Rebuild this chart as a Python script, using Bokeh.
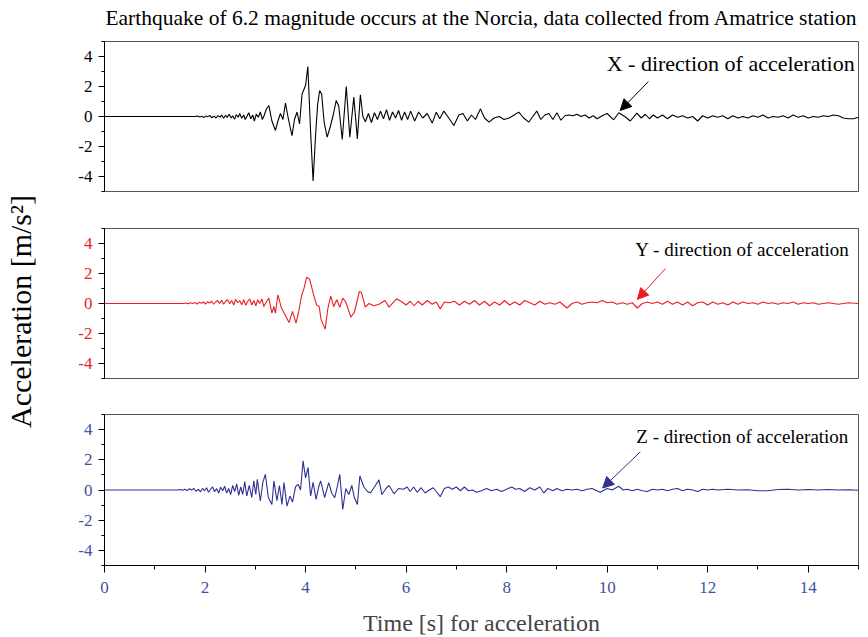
from bokeh.plotting import figure
from bokeh.layouts import column, row
from bokeh.models import FixedTicker, Arrow, NormalHead, Label, Range1d
from bokeh.embed import file_html
from bokeh.resources import INLINE

TITLE = "Earthquake of 6.2 magnitude occurs at the Norcia, data collected from Amatrice station"
X_LABEL = "Time [s] for acceleration"
Y_LABEL = "Acceleration [m/s\u00b2]"
Y_TICKS = [-4, -2, 0, 2, 4]
Y_MINOR = [-5, -3, -1, 1, 3, 5]
X_TICKS = [0, 2, 4, 6, 8, 10, 12, 14]
X_MINOR = [1, 3, 5, 7, 9, 11, 13, 15]

# (time s, acceleration m/s^2)
X_DIR = [(0, 0), (1.80, 0), (1.85, 0.03), (1.90, -0.04), (1.93, 0.02), (1.98, -0.06), (2.02, 0.04),
         (2.05, -0.02), (2.10, 0.06), (2.13, -0.08), (2.18, 0.02), (2.22, -0.1), (2.25, 0.05),
         (2.30, -0.04), (2.33, 0.1), (2.37, -0.12), (2.41, 0.08), (2.44, -0.06), (2.48, 0.15),
         (2.52, -0.1), (2.55, 0.05), (2.59, -0.18), (2.62, 0.12), (2.66, -0.05), (2.69, 0.2),
         (2.73, -0.12), (2.77, 0.1), (2.80, -0.2), (2.84, 0.05), (2.87, 0.25), (2.91, -0.15),
         (2.95, 0.1), (2.98, -0.3), (3.02, 0.15), (3.06, -0.05), (3.10, 0.3), (3.14, -0.2),
         (3.18, 0.1), (3.22, 0.5), (3.27, 0.73), (3.33, -0.3), (3.40, -0.93), (3.45, -0.3), (3.50, 0.2),
         (3.55, -0.2), (3.60, 0.9), (3.66, -0.2), (3.73, -1.27), (3.78, -0.2), (3.83, 0.3),
         (3.88, -0.5), (3.93, 1.5), (4.00, 2.07), (4.045, 3.33), (4.10, -1.0), (4.15, -4.3),
         (4.20, -1.2), (4.24, 0.8), (4.28, 1.73), (4.32, 1.5), (4.37, -0.4), (4.43, -1.38),
         (4.49, -0.7), (4.55, 0.1), (4.61, 1.07), (4.66, 0.7), (4.73, -1.53), (4.81, 2.0),
         (4.88, -1.38), (4.96, 1.29), (5.03, -1.49), (5.09, 1.44), (5.14, 0.0), (5.19, -0.35),
         (5.25, 0.2), (5.31, -0.4), (5.37, 0.25), (5.43, -0.2), (5.49, 0.35), (5.55, -0.15),
         (5.61, 0.45), (5.67, -0.25), (5.73, 0.3), (5.79, -0.1), (5.85, 0.4), (5.91, -0.25),
         (5.97, 0.3), (6.03, -0.2), (6.09, 0.36), (6.17, -0.3), (6.25, 0.3), (6.33, -0.1),
         (6.42, 0.2), (6.52, -0.44), (6.60, 0.29), (6.67, -0.15), (6.75, 0.36), (6.85, -0.1),
         (6.95, -0.6), (7.05, 0.1), (7.13, 0.2), (7.22, -0.3), (7.30, 0.1), (7.38, -0.2),
         (7.48, 0.51), (7.56, -0.1), (7.65, -0.38), (7.75, -0.1), (7.85, 0.0), (7.95, -0.2),
         (8.05, -0.1), (8.15, 0.1), (8.24, 0.29), (8.34, -0.1), (8.44, -0.38), (8.52, 0.0),
         (8.60, 0.36), (8.68, -0.2), (8.76, 0.1), (8.84, 0.2), (8.92, -0.2), (9.00, 0.25),
         (9.08, -0.25), (9.16, 0.05), (9.24, 0.1), (9.32, 0.05), (9.40, 0.15), (9.48, 0.0),
         (9.56, 0.1), (9.64, -0.1), (9.72, 0.05), (9.80, -0.15), (9.90, 0.05), (10.00, 0.2),
         (10.13, -0.22), (10.23, 0.25), (10.35, 0.0), (10.46, -0.3), (10.59, 0.22), (10.68, -0.1),
         (10.76, 0.15), (10.84, -0.15), (10.92, 0.1), (11.00, -0.1), (11.10, 0.1), (11.20, -0.15),
         (11.30, 0.1), (11.40, -0.05), (11.50, 0.05), (11.60, -0.1), (11.70, 0.0), (11.80, -0.3),
         (11.90, 0.05), (12.00, -0.1), (12.10, 0.05), (12.20, -0.05), (12.30, 0.05), (12.40, -0.15),
         (12.50, 0.05), (12.60, -0.1), (12.70, 0.0), (12.80, -0.1), (12.90, 0.05), (13.00, -0.05),
         (13.10, 0.1), (13.20, -0.1), (13.30, 0.0), (13.40, -0.05), (13.50, 0.05), (13.60, -0.1),
         (13.70, 0.1), (13.80, -0.05), (13.90, 0.05), (14.00, -0.1), (14.10, 0.0), (14.20, -0.05),
         (14.30, 0.05), (14.40, 0.0), (14.50, 0.1), (14.60, 0.05), (14.70, -0.1), (14.80, -0.15),
         (14.90, -0.15), (15.00, -0.05)]

Y_DIR = [(0, 0), (1.57, 0), (1.62, 0.03), (1.66, -0.02), (1.71, 0.05), (1.75, 0.0), (1.80, 0.06),
         (1.84, -0.03), (1.89, 0.08), (1.93, 0.02), (1.97, 0.1), (2.01, -0.04), (2.05, 0.12),
         (2.09, 0.03), (2.13, 0.15), (2.17, -0.05), (2.21, 0.1), (2.25, 0.2), (2.29, 0.0),
         (2.33, 0.22), (2.37, -0.05), (2.41, 0.15), (2.45, 0.25), (2.49, -0.02), (2.53, 0.2),
         (2.57, -0.1), (2.61, 0.28), (2.65, 0.05), (2.69, 0.2), (2.73, -0.08), (2.77, 0.25),
         (2.81, -0.12), (2.85, 0.15), (2.89, 0.3), (2.93, -0.1), (2.97, 0.2), (3.01, -0.15),
         (3.05, 0.25), (3.09, 0.0), (3.13, 0.3), (3.17, -0.2), (3.22, 0.1), (3.27, 0.36),
         (3.33, -0.64), (3.37, -0.2), (3.40, -0.64),
         (3.45, 0.58), (3.52, -0.3), (3.60, -0.8), (3.67, -1.27), (3.74, -0.53), (3.81, -1.31),
         (3.86, -0.6), (3.92, 0.5), (3.97, 1.02), (4.02, 1.76), (4.08, 1.62), (4.16, 0.58),
         (4.22, -0.1), (4.27, -0.2), (4.31, -1.09), (4.39, -1.71), (4.44, -0.4), (4.50, 0.51),
         (4.56, -0.2), (4.62, 0.25), (4.68, -0.25), (4.74, 0.36), (4.80, 0.1), (4.90, -0.91),
         (4.97, -0.6), (5.07, 0.8), (5.11, 0.75), (5.19, -0.24), (5.26, 0.0), (5.36, -0.15),
         (5.46, -0.05), (5.58, 0.2), (5.66, -0.24), (5.81, 0.31), (5.92, 0.1), (6.00, -0.1),
         (6.08, 0.15), (6.16, -0.15), (6.24, 0.15), (6.32, -0.1), (6.42, 0.2), (6.52, -0.05),
         (6.60, 0.1), (6.68, -0.36), (6.76, 0.1), (6.86, 0.05), (6.96, 0.15), (7.06, -0.1),
         (7.16, 0.15), (7.26, -0.05), (7.36, 0.2), (7.46, -0.1), (7.56, 0.15), (7.66, -0.15),
         (7.76, 0.1), (7.86, -0.1), (7.96, 0.2), (8.06, -0.1), (8.16, 0.1), (8.26, -0.1),
         (8.36, 0.2), (8.46, 0.05), (8.56, -0.1), (8.66, 0.15), (8.76, -0.05), (8.86, 0.05),
         (8.96, -0.05), (9.06, 0.1), (9.20, -0.3), (9.30, 0.0), (9.40, 0.1), (9.50, -0.05),
         (9.60, 0.05), (9.70, 0.1), (9.80, 0.05), (9.90, 0.2), (10.00, 0.05), (10.10, 0.1),
         (10.20, -0.05), (10.30, 0.05), (10.40, -0.05), (10.50, 0.05), (10.60, -0.3), (10.70, 0.0),
         (10.80, 0.1), (10.90, 0.0), (11.00, 0.1), (11.10, -0.05), (11.20, 0.15), (11.30, -0.05),
         (11.40, 0.1), (11.50, -0.1), (11.60, 0.1), (11.70, -0.15), (11.80, 0.05), (11.90, 0.1),
         (12.00, -0.1), (12.10, 0.1), (12.20, -0.05), (12.30, 0.05), (12.40, -0.1), (12.50, 0.1),
         (12.60, -0.05), (12.70, 0.1), (12.80, 0.0), (12.90, 0.05), (13.00, -0.05), (13.10, 0.1),
         (13.20, 0.0), (13.30, 0.05), (13.40, -0.05), (13.50, 0.05), (13.60, 0.0), (13.70, 0.1),
         (13.80, -0.05), (13.90, 0.05), (14.00, 0.0), (14.10, 0.05), (14.20, -0.05), (14.40, 0.05),
         (14.60, -0.05), (14.80, 0.05), (15.00, 0.0)]

Z_DIR = [(0, 0), (1.45, 0), (1.50, 0.03), (1.55, -0.02), (1.60, 0.05), (1.64, -0.04), (1.69, 0.08),
         (1.73, 0.0), (1.78, 0.1), (1.82, -0.08), (1.87, 0.05), (1.91, -0.12), (1.95, 0.1),
         (1.99, -0.05), (2.03, 0.15), (2.07, -0.15), (2.11, 0.05), (2.15, 0.2), (2.19, -0.12),
         (2.23, 0.1), (2.27, -0.2), (2.31, 0.18), (2.35, -0.05), (2.39, 0.25), (2.43, -0.2),
         (2.47, 0.1), (2.51, -0.3), (2.55, 0.3), (2.59, -0.1), (2.63, 0.4), (2.67, -0.35),
         (2.71, 0.2), (2.75, -0.3), (2.79, 0.55), (2.83, -0.4), (2.88, 0.3), (2.93, -0.5),
         (2.97, 0.6), (3.01, -0.3), (3.04, 0.71), (3.10, -0.73), (3.15, 0.5), (3.20, 1.04), (3.26, -0.5),
         (3.33, -0.96), (3.37, 0.6), (3.43, -0.7), (3.48, 0.3), (3.53, -0.96), (3.57, 0.5),
         (3.63, -1.07), (3.69, -0.4), (3.74, -0.8), (3.80, 0.2), (3.85, 0.38), (3.90, 0.0),
         (3.95, 1.93), (4.00, 0.8), (4.05, 1.49), (4.10, -0.4), (4.15, 0.5), (4.21, -0.62),
         (4.26, 0.2), (4.30, 0.6), (4.38, -0.51), (4.46, 0.49), (4.52, -0.2), (4.58, -0.51),
         (4.63, 0.2), (4.68, 1.04), (4.74, -1.29), (4.80, 0.1), (4.86, -0.3), (4.92, 0.3),
         (4.97, -0.5), (5.03, -0.96), (5.08, 0.93), (5.16, 0.2), (5.23, -0.1), (5.29, -0.2),
         (5.37, 0.2), (5.46, 0.67), (5.52, -0.3), (5.60, 0.1), (5.66, 0.3), (5.76, -0.25),
         (5.85, 0.1), (5.95, 0.05), (6.02, 0.2), (6.08, -0.1), (6.15, 0.2), (6.22, -0.15),
         (6.30, 0.15), (6.38, -0.2), (6.46, 0.0), (6.54, 0.15), (6.60, -0.1), (6.68, -0.44),
         (6.76, 0.1), (6.84, 0.2), (6.92, 0.05), (7.00, 0.2), (7.08, -0.05), (7.16, 0.2),
         (7.24, -0.05), (7.32, 0.0), (7.40, -0.15), (7.50, -0.05), (7.60, 0.1), (7.70, -0.05),
         (7.80, 0.05), (7.90, -0.1), (8.00, 0.05), (8.10, 0.2), (8.18, 0.05), (8.26, 0.1),
         (8.36, -0.1), (8.46, 0.15), (8.56, 0.0), (8.66, 0.2), (8.74, -0.2), (8.82, 0.1),
         (8.92, -0.05), (9.00, 0.1), (9.10, -0.05), (9.20, 0.05), (9.30, 0.0), (9.40, 0.05),
         (9.50, -0.05), (9.60, 0.05), (9.70, 0.1), (9.86, -0.15), (10.00, 0.1), (10.10, 0.0),
         (10.23, 0.25), (10.32, 0.0), (10.40, 0.05), (10.50, -0.05), (10.60, 0.05), (10.70, -0.05),
         (10.80, -0.1), (10.90, 0.05), (11.00, 0.0), (11.10, 0.05), (11.20, -0.05), (11.30, 0.05),
         (11.40, 0.1), (11.50, -0.05), (11.60, 0.05), (11.70, 0.0), (11.80, -0.1), (11.90, 0.05),
         (12.00, 0.0), (12.10, 0.05), (12.20, 0.0), (12.40, 0.05), (12.60, 0.0), (12.80, 0.02),
         (13.00, -0.05), (13.20, -0.05), (13.40, 0.03), (13.60, 0.05), (13.80, 0.0), (14.00, 0.03),
         (14.20, 0.0), (14.40, 0.03), (14.60, 0.0), (14.80, 0.02), (15.00, -0.02)]

LABELS = ["X - direction of acceleration", "Y - direction of acceleration", "Z - direction of acceleration"]
LABEL_POS = [(9.99, 3.55), (10.56, 3.6), (10.58, 3.55)]
LABEL_SIZES = ["22px", "19px", "19px"]
ARROWS = [((10.82, 2.33), (10.26, 0.40)), ((11.16, 2.33), (10.60, 0.27)), ((10.66, 2.53), (9.91, 0.13))]

LINE_COLORS = ["#000000", "#ee1c24", "#2e3192"]
TICK_COLORS = ["#000000", "#ea2228", "#4350a3"]

FONT = "Liberation Serif"
LEFT_W = 40
TITLE_H = 30
COL_W = (104 - LEFT_W) + 754 + 8


def blank_fig(w, h):
    f = figure(width=w, height=h, output_backend="svg", toolbar_location=None,
               x_range=Range1d(0, 1), y_range=Range1d(0, 1), min_border=0)
    f.axis.visible = False
    f.grid.visible = False
    f.outline_line_color = None
    return f


def make_panel(i, series, top, bottom, fh):
    p = figure(frame_width=754, frame_height=fh, output_backend="svg", toolbar_location=None,
               x_range=Range1d(0, 15), y_range=Range1d(-5, 5),
               min_border_left=104 - LEFT_W, min_border_right=8, min_border_top=top, min_border_bottom=bottom)
    p.grid.visible = False
    p.outline_line_color = "#555555"
    p.outline_line_width = 1
    ts = [a for a, b in series]
    vs = [b for a, b in series]
    p.line(ts, vs, line_color=LINE_COLORS[i], line_width=1.1)

    ya = p.yaxis[0]
    ya.ticker = FixedTicker(ticks=Y_TICKS, minor_ticks=Y_MINOR)
    ya.major_label_overrides = {t: str(t) for t in Y_TICKS}
    ya.major_tick_in = 0
    ya.major_tick_out = 6
    ya.minor_tick_in = 0
    ya.minor_tick_out = 3
    ya.axis_line_color = "black"
    ya.major_tick_line_color = "black"
    ya.minor_tick_line_color = "black"
    ya.major_label_text_font = FONT
    ya.major_label_text_font_size = "17px"
    ya.major_label_text_color = TICK_COLORS[i]
    ya.major_label_standoff = 6

    lx, ly = LABEL_POS[i]
    p.add_layout(Label(x=lx, y=ly, text=LABELS[i], text_font=FONT, text_font_size=LABEL_SIZES[i],
                       text_baseline="middle", text_color="black"))
    (x0, y0), (x1, y1) = ARROWS[i]
    p.add_layout(Arrow(end=NormalHead(size=11, fill_color=LINE_COLORS[i], line_color=LINE_COLORS[i]),
                       x_start=x0, y_start=y0, x_end=x1, y_end=y1,
                       line_color=LINE_COLORS[i], line_width=1))
    return p


title_fig = blank_fig(COL_W, TITLE_H)
# the column aligns this figure's frame with the panels' frames; keep the title inside it
title_fig.add_layout(Label(x=377, y=TITLE_H - 17, x_units="screen", y_units="screen",
                           text=TITLE, text_font=FONT, text_font_size="21.5px",
                           text_align="center", text_baseline="middle", text_color="black"))

p1 = make_panel(0, X_DIR, 41 - TITLE_H, 18, 150)
p1.xaxis.visible = False

p2 = make_panel(1, Y_DIR, 19, 17, 150)
p2.xaxis.visible = False

p3 = make_panel(2, Z_DIR, 19, 68, 151)
xa = p3.xaxis[0]
xa.ticker = FixedTicker(ticks=X_TICKS, minor_ticks=X_MINOR)
xa.major_tick_in = 0
xa.major_tick_out = 7
xa.minor_tick_in = 0
xa.minor_tick_out = 4
xa.axis_line_color = "black"
xa.major_tick_line_color = "black"
xa.minor_tick_line_color = "black"
xa.major_label_text_font = FONT
xa.major_label_text_font_size = "17px"
xa.major_label_text_color = TICK_COLORS[2]
xa.major_label_standoff = 9
xa.axis_label = X_LABEL
xa.axis_label_text_font = FONT
xa.axis_label_text_font_size = "24px"
xa.axis_label_text_font_style = "normal"
xa.axis_label_standoff = 14

TOTAL_H = TITLE_H + (41 - TITLE_H + 150 + 18) + (19 + 150 + 17) + (19 + 151 + 68)
lab = blank_fig(LEFT_W, TOTAL_H)
lab.add_layout(Label(x=20, y=TOTAL_H - 311, x_units="screen", y_units="screen", angle=90,
                     angle_units="deg", text=Y_LABEL, text_font=FONT, text_font_size="30px",
                     text_align="center", text_baseline="middle", text_color="black"))

layout = row(lab, column(title_fig, p1, p2, p3, spacing=0), spacing=0)
open("out.html", "w").write(file_html(layout, INLINE))
